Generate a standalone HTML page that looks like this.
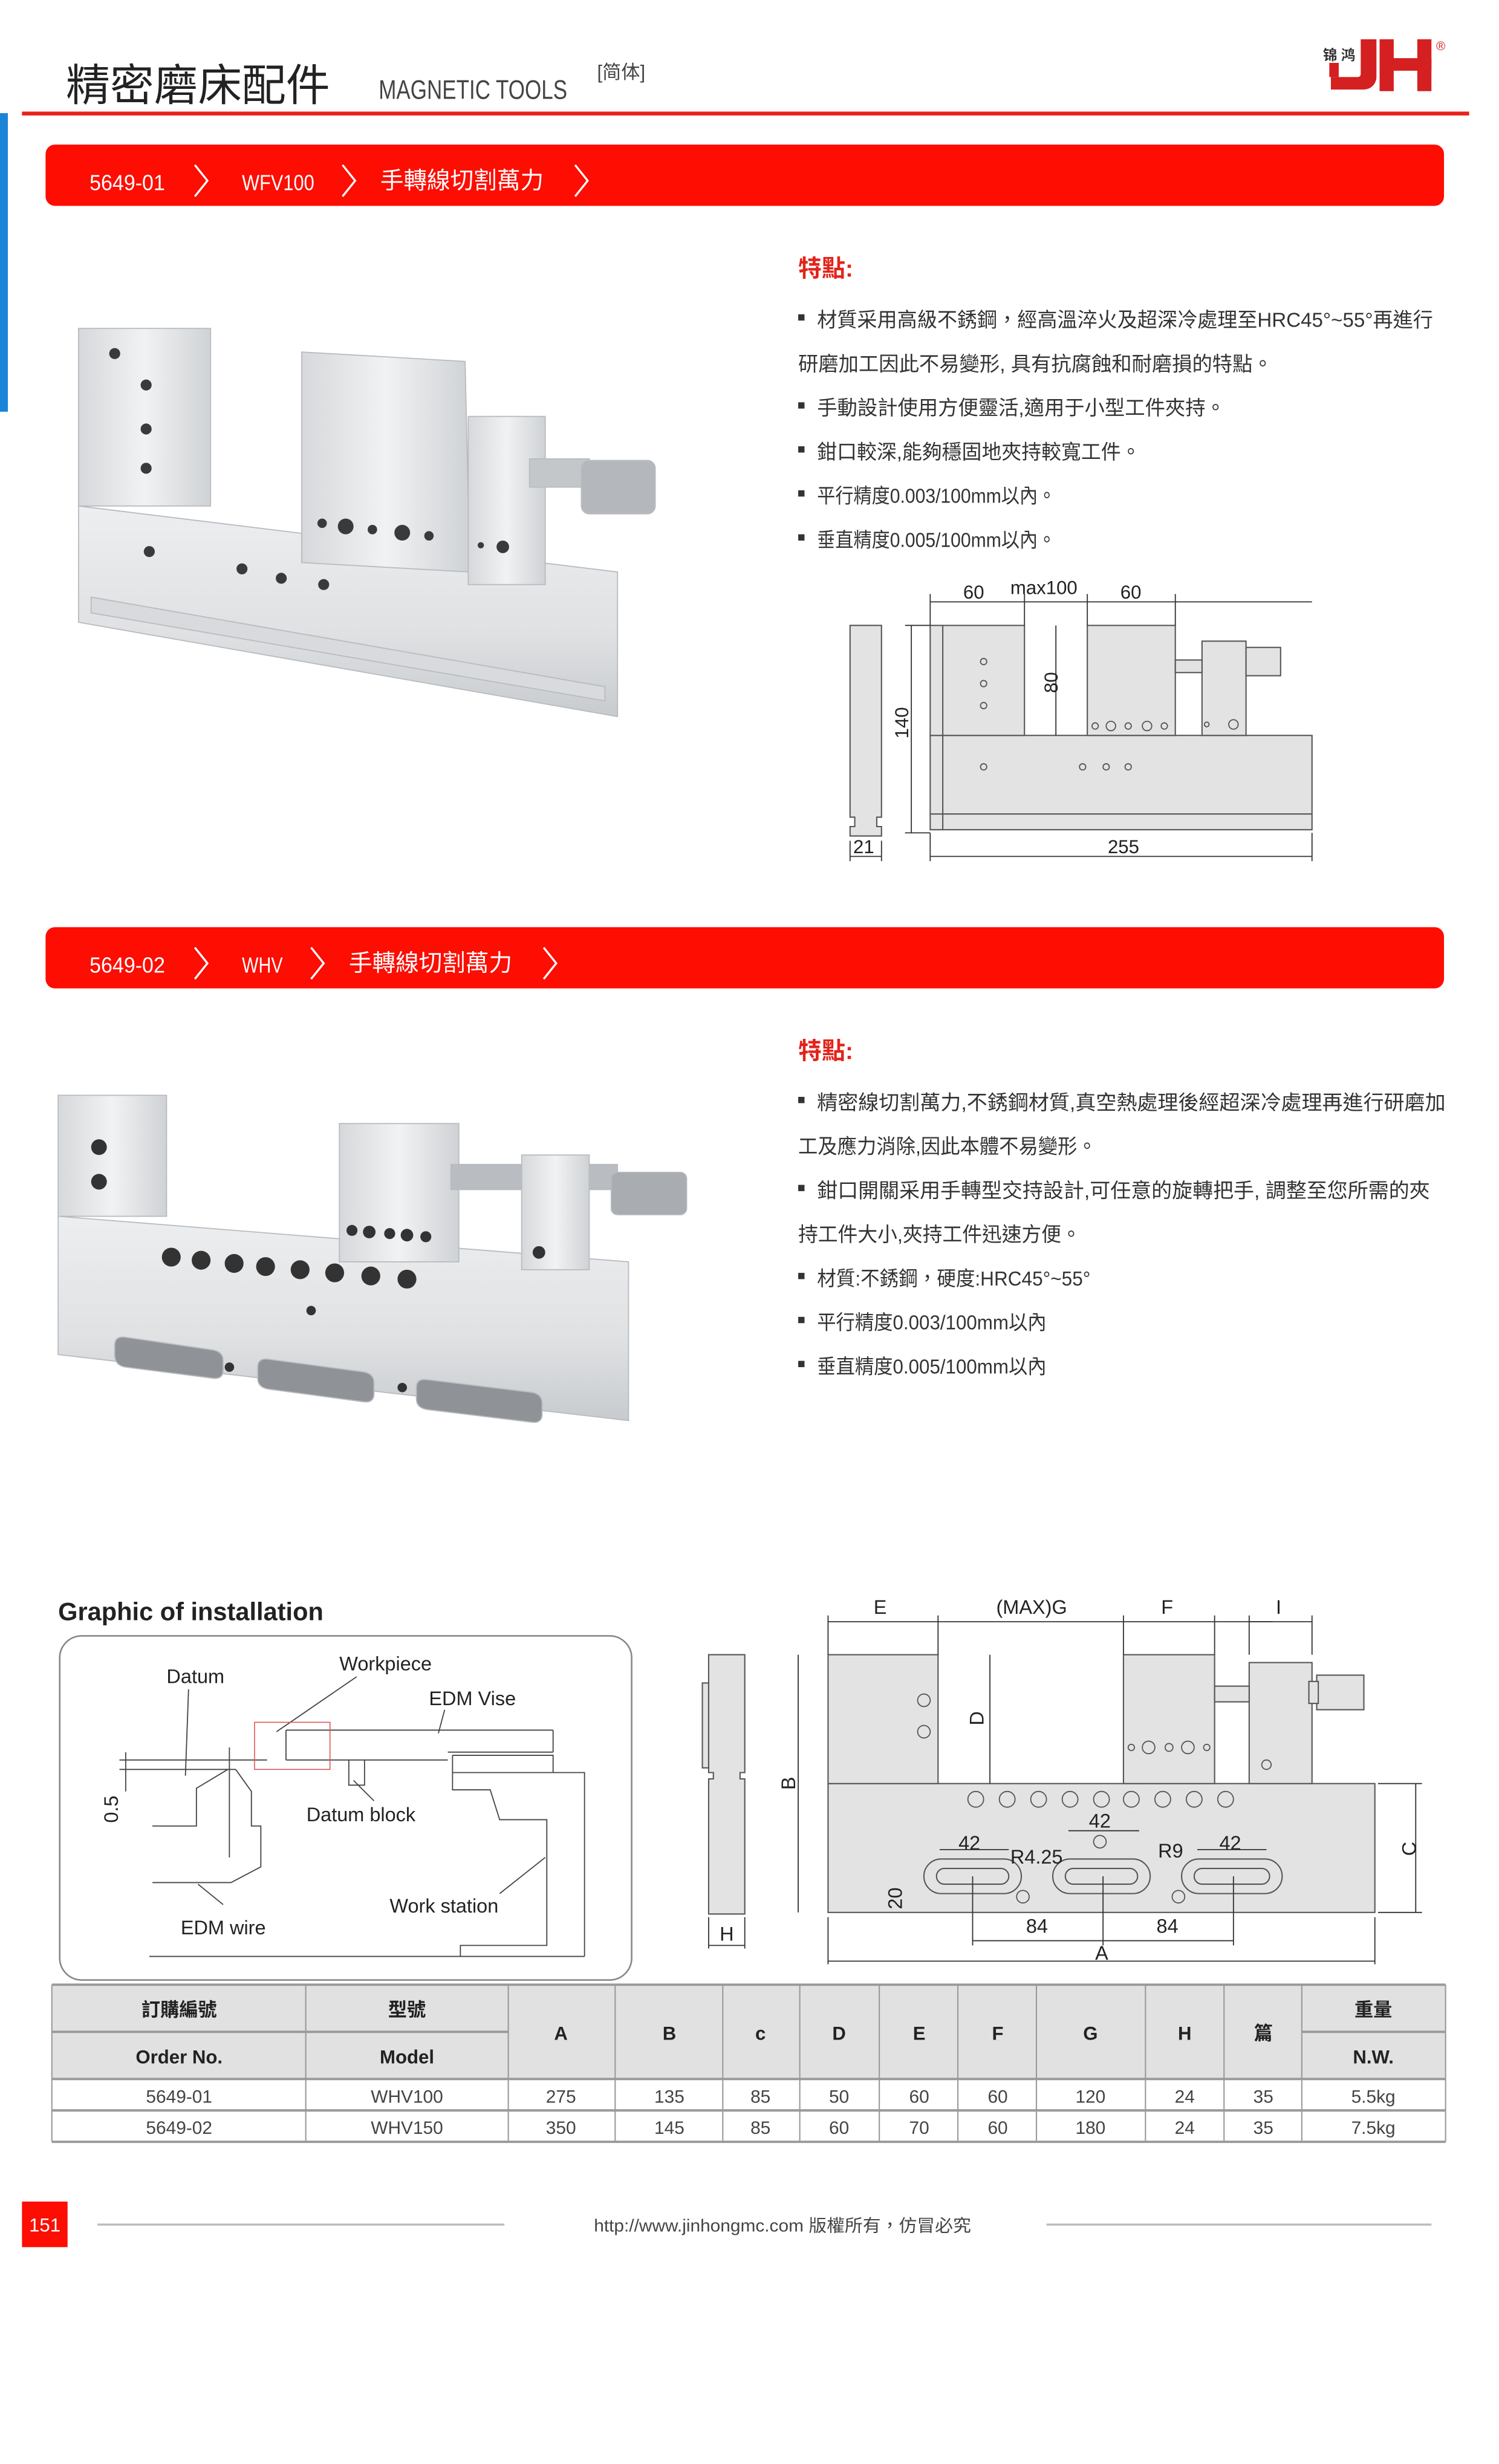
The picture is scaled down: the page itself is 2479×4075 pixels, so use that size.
<!DOCTYPE html>
<html><head><meta charset="utf-8"><style>
html,body{margin:0;padding:0;background:#fff;}
svg{display:block;}
text{font-family:"Liberation Sans","Noto Sans CJK TC","Noto Sans CJK SC",sans-serif;}
</style></head><body>
<svg width="2479" height="4075" viewBox="0 0 954 1568" preserveAspectRatio="none" xmlns="http://www.w3.org/2000/svg">
<defs>
<linearGradient id="met" x1="0" y1="0" x2="0" y2="1"><stop offset="0" stop-color="#eceef0"/><stop offset="0.6" stop-color="#dfe1e3"/><stop offset="1" stop-color="#c8cbce"/></linearGradient>
<linearGradient id="met2" x1="0" y1="0" x2="1" y2="0"><stop offset="0" stop-color="#d6d8db"/><stop offset="0.5" stop-color="#f1f2f3"/><stop offset="1" stop-color="#cfd2d5"/></linearGradient>
</defs>
<rect width="954" height="1568" fill="#fff"/>
<!-- header -->
<text x="42" y="64" font-size="28" fill="#222">精密磨床配件</text>
<text x="241" y="63" font-size="17" fill="#444" textLength="120" lengthAdjust="spacingAndGlyphs">MAGNETIC TOOLS</text>
<text x="380" y="50" font-size="12" fill="#444">[简体]</text>
<text x="842" y="38" font-size="9" font-weight="bold" fill="#333">锦 鸿</text>
<path d="M866 25 h10 v24 a8 8 0 0 1 -8 8 h-21 v-8 h17 q2 0 2 -2 z" fill="#d42020"/>
<path d="M846 40 h6 v9 h-6z" fill="#d42020"/>
<rect x="878" y="25" width="9" height="33" fill="#d42020"/>
<rect x="902" y="25" width="9" height="33" fill="#d42020"/>
<rect x="878" y="37" width="33" height="8" fill="#d42020"/>
<text x="914" y="32" font-size="8" fill="#d42020">®</text>
<rect x="14" y="71" width="921" height="2.5" fill="#e8231a"/>
<rect x="0" y="72" width="5" height="190" fill="#1a84d8"/>

<!-- banner 1 -->
<rect x="29" y="92" width="890" height="39" rx="6" fill="#fd0d02"/>
<g fill="#fff">
<text x="57" y="121" font-size="14" textLength="48" lengthAdjust="spacingAndGlyphs">5649-01</text>
<text x="154" y="121" font-size="14" textLength="46" lengthAdjust="spacingAndGlyphs">WFV100</text>
<text x="242" y="120" font-size="15" textLength="104" lengthAdjust="spacingAndGlyphs">手轉線切割萬力</text>
</g>
<g stroke="#fff" stroke-width="1.3" fill="none">
<polyline points="124,105 132,115 124,125"/><polyline points="218,105 226,115 218,125"/><polyline points="366,105 374,115 366,125"/>
</g>

<!-- photo 1 -->
<g stroke="#b8bcc0" stroke-width="0.7">
<path d="M50 322 L393 364 L393 456 L50 396 Z" fill="url(#met)"/>
<path d="M58 380 L385 437 L385 446 L58 390Z" fill="#d8dadd"/>
<rect x="50" y="209" width="84" height="113" fill="url(#met2)"/>
<path d="M192 224 L296 230 L299 364 L192 358 Z" fill="url(#met2)"/>
<rect x="298" y="265" width="49" height="107" fill="url(#met2)"/>
<rect x="337" y="292" width="38" height="18" fill="#c4c7ca"/>
<rect x="370" y="293" width="47" height="34" rx="5" fill="#b4b8bc"/>
</g>
<g fill="#3a3a3a">
<circle cx="73" cy="225" r="3.5"/><circle cx="93" cy="245" r="3.5"/><circle cx="93" cy="273" r="3.5"/><circle cx="93" cy="298" r="3.5"/>
<circle cx="205" cy="333" r="3"/><circle cx="220" cy="335" r="5"/><circle cx="237" cy="337" r="3"/><circle cx="256" cy="339" r="5"/><circle cx="273" cy="341" r="3"/>
<circle cx="320" cy="348" r="4"/><circle cx="306" cy="347" r="2"/>
<circle cx="95" cy="351" r="3.5"/><circle cx="154" cy="362" r="3.5"/><circle cx="179" cy="368" r="3.5"/><circle cx="206" cy="372" r="3.5"/>
</g>

<!-- features 1 -->
<text x="508" y="176" font-size="15" font-weight="bold" fill="#e3231b">特點:</text>
<g font-size="13" fill="#333">
<rect x="508" y="200" width="4" height="4"/><text x="520" y="208" textLength="392" lengthAdjust="spacingAndGlyphs">材質采用高級不銹鋼，經高溫淬火及超深冷處理至HRC45°~55°再進行</text>
<text x="508" y="236" textLength="302" lengthAdjust="spacingAndGlyphs">研磨加工因此不易變形, 具有抗腐蝕和耐磨損的特點。</text>
<rect x="508" y="256" width="4" height="4"/><text x="520" y="264" textLength="260" lengthAdjust="spacingAndGlyphs">手動設計使用方便靈活,適用于小型工件夾持。</text>
<rect x="508" y="284" width="4" height="4"/><text x="520" y="292" textLength="206" lengthAdjust="spacingAndGlyphs">鉗口較深,能夠穩固地夾持較寬工件。</text>
<rect x="508" y="312" width="4" height="4"/><text x="520" y="320" textLength="152" lengthAdjust="spacingAndGlyphs">平行精度0.003/100mm以內。</text>
<rect x="508" y="340" width="4" height="4"/><text x="520" y="348" textLength="152" lengthAdjust="spacingAndGlyphs">垂直精度0.005/100mm以內。</text>
</g>

<!-- diagram 1 -->
<g stroke="#555" stroke-width="0.8" fill="#e3e3e3">
<path d="M541 398 h20 v122 h-3 v6 h3 v6 h-20 v-6 h3 v-6 h-3z"/>
<rect x="592" y="468" width="243" height="60"/>
<rect x="592" y="398" width="60" height="70"/>
<rect x="692" y="398" width="56" height="70"/>
<rect x="765" y="408" width="28" height="60"/>
<rect x="748" y="420" width="17" height="8"/>
<rect x="793" y="412" width="22" height="18"/>
<line x1="592" y1="518" x2="835" y2="518"/><line x1="600" y1="398" x2="600" y2="528"/>
</g>
<g fill="none" stroke="#555" stroke-width="0.7">
<circle cx="626" cy="421" r="2"/><circle cx="626" cy="435" r="2"/><circle cx="626" cy="449" r="2"/>
<circle cx="697" cy="462" r="2"/><circle cx="707" cy="462" r="3"/><circle cx="718" cy="462" r="2"/><circle cx="730" cy="462" r="3"/><circle cx="741" cy="462" r="2"/>
<circle cx="785" cy="461" r="3"/><circle cx="768" cy="461" r="1.5"/>
<circle cx="626" cy="488" r="2"/><circle cx="689" cy="488" r="2"/><circle cx="704" cy="488" r="2"/><circle cx="718" cy="488" r="2"/>
</g>
<g stroke="#333" stroke-width="0.7" fill="none">
<line x1="592" y1="383" x2="835" y2="383"/>
<line x1="592" y1="378" x2="592" y2="398"/><line x1="652" y1="378" x2="652" y2="398"/><line x1="692" y1="378" x2="692" y2="398"/><line x1="748" y1="378" x2="748" y2="398"/>
<line x1="580" y1="398" x2="580" y2="530"/><line x1="576" y1="398" x2="592" y2="398"/><line x1="576" y1="530" x2="592" y2="530"/>
<line x1="672" y1="398" x2="672" y2="468"/>
<line x1="592" y1="545" x2="835" y2="545"/><line x1="592" y1="530" x2="592" y2="548"/><line x1="835" y1="530" x2="835" y2="548"/>
<line x1="541" y1="545" x2="561" y2="545"/><line x1="541" y1="535" x2="541" y2="548"/><line x1="561" y1="535" x2="561" y2="548"/>
</g>
<g font-size="12" fill="#222">
<text x="613" y="381">60</text><text x="643" y="378">max100</text><text x="713" y="381">60</text>
<text x="705" y="543">255</text><text x="543" y="543">21</text>
<text transform="translate(673,441) rotate(-90)">80</text>
<text transform="translate(578,470) rotate(-90)">140</text>
</g>

<!-- banner 2 -->
<rect x="29" y="590" width="890" height="39" rx="6" fill="#fd0d02"/>
<g fill="#fff">
<text x="57" y="619" font-size="14" textLength="48" lengthAdjust="spacingAndGlyphs">5649-02</text>
<text x="154" y="619" font-size="14" textLength="26" lengthAdjust="spacingAndGlyphs">WHV</text>
<text x="222" y="618" font-size="15" textLength="104" lengthAdjust="spacingAndGlyphs">手轉線切割萬力</text>
</g>
<g stroke="#fff" stroke-width="1.3" fill="none">
<polyline points="124,603 132,613 124,623"/><polyline points="198,603 206,613 198,623"/><polyline points="346,603 354,613 346,623"/>
</g>

<!-- photo 2 -->
<g stroke="#b8bcc0" stroke-width="0.7">
<path d="M37 774 L400 803 L400 904 L37 862 Z" fill="url(#met)"/>
<rect x="37" y="697" width="69" height="77" fill="url(#met2)"/>
<rect x="216" y="715" width="76" height="88" fill="url(#met2)"/>
<rect x="287" y="741" width="106" height="16" fill="#b9bcc0"/>
<rect x="332" y="735" width="43" height="73" fill="url(#met2)"/>
<rect x="389" y="746" width="48" height="27" rx="4" fill="#a9adb1"/>
<path d="M73 856 Q73 850 80 851 L135 859 Q142 860 142 866 L142 872 Q142 878 135 877 L80 870 Q73 869 73 862Z" fill="#8f9397"/>
<path d="M164 870 Q164 864 171 865 L231 873 Q238 874 238 880 L238 887 Q238 893 231 892 L171 884 Q164 883 164 877Z" fill="#8f9397"/>
<path d="M265 883 Q265 877 272 878 L338 886 Q345 887 345 893 L345 900 Q345 906 338 905 L272 897 Q265 896 265 890Z" fill="#8f9397"/>
</g>
<g fill="#333">
<circle cx="63" cy="730" r="5"/><circle cx="63" cy="752" r="5"/>
<circle cx="109" cy="800" r="6"/><circle cx="128" cy="802" r="6"/><circle cx="149" cy="804" r="6"/><circle cx="169" cy="806" r="6"/><circle cx="191" cy="808" r="6"/><circle cx="213" cy="810" r="6"/><circle cx="236" cy="812" r="6"/><circle cx="259" cy="814" r="6"/>
<circle cx="224" cy="783" r="3.5"/><circle cx="235" cy="784" r="4"/><circle cx="248" cy="785" r="3.5"/><circle cx="259" cy="786" r="4"/><circle cx="271" cy="787" r="3.5"/>
<circle cx="343" cy="797" r="4"/><circle cx="198" cy="834" r="3"/><circle cx="146" cy="870" r="3"/><circle cx="256" cy="883" r="3"/>
</g>

<!-- features 2 -->
<text x="508" y="674" font-size="15" font-weight="bold" fill="#e3231b">特點:</text>
<g font-size="13" fill="#333">
<rect x="508" y="698" width="4" height="4"/><text x="520" y="706" textLength="400" lengthAdjust="spacingAndGlyphs">精密線切割萬力,不銹鋼材質,真空熱處理後經超深冷處理再進行研磨加</text>
<text x="508" y="734" textLength="190" lengthAdjust="spacingAndGlyphs">工及應力消除,因此本體不易變形。</text>
<rect x="508" y="754" width="4" height="4"/><text x="520" y="762" textLength="390" lengthAdjust="spacingAndGlyphs">鉗口開關采用手轉型交持設計,可任意的旋轉把手, 調整至您所需的夾</text>
<text x="508" y="790" textLength="180" lengthAdjust="spacingAndGlyphs">持工件大小,夾持工件迅速方便。</text>
<rect x="508" y="810" width="4" height="4"/><text x="520" y="818" textLength="174" lengthAdjust="spacingAndGlyphs">材質:不銹鋼，硬度:HRC45°~55°</text>
<rect x="508" y="838" width="4" height="4"/><text x="520" y="846" textLength="146" lengthAdjust="spacingAndGlyphs">平行精度0.003/100mm以內</text>
<rect x="508" y="866" width="4" height="4"/><text x="520" y="874" textLength="146" lengthAdjust="spacingAndGlyphs">垂直精度0.005/100mm以內</text>
</g>

<!-- installation graphic -->
<text x="37" y="1031" font-size="16" font-weight="bold" fill="#222">Graphic of installation</text>
<rect x="38" y="1041" width="364" height="219" rx="14" fill="#fff" stroke="#888" stroke-width="1"/>
<g stroke="#444" stroke-width="0.7" fill="none">
<line x1="76" y1="1120" x2="170" y2="1120"/><line x1="76" y1="1126" x2="150" y2="1126"/>
<line x1="182" y1="1101" x2="352" y2="1101"/><line x1="182" y1="1101" x2="182" y2="1120"/><line x1="182" y1="1120" x2="285" y2="1120"/>
<line x1="285" y1="1115" x2="352" y2="1115"/><line x1="352" y1="1101" x2="352" y2="1115"/>
<polyline points="288,1117 352,1117 352,1128"/><polyline points="288,1117 288,1139 312,1139 318,1158 348,1158 348,1238 293,1238 293,1245"/>
<polyline points="288,1128 372,1128 372,1245"/>
<line x1="95" y1="1245" x2="372" y2="1245"/>
<polyline points="222,1120 222,1136 232,1136 232,1120"/>
<polyline points="145,1126 125,1138 125,1162 97,1162"/>
<polyline points="150,1126 160,1140 160,1162 166,1162 166,1188 147,1198 97,1198"/>
<line x1="146" y1="1112" x2="146" y2="1182"/>
<line x1="120" y1="1075" x2="118" y2="1130"/>
<line x1="227" y1="1067" x2="176" y2="1102"/>
<line x1="283" y1="1088" x2="279" y2="1103"/>
<line x1="238" y1="1146" x2="225" y2="1133"/>
<line x1="126" y1="1199" x2="142" y2="1212"/>
<line x1="318" y1="1205" x2="347" y2="1182"/>
<line x1="80" y1="1115" x2="80" y2="1140"/>
</g>
<rect x="162" y="1096" width="48" height="30" fill="none" stroke="#e05050" stroke-width="0.6"/>
<g font-size="12.5" fill="#222">
<text x="106" y="1071">Datum</text><text x="216" y="1063">Workpiece</text><text x="273" y="1085">EDM Vise</text>
<text x="195" y="1159">Datum block</text><text x="248" y="1217">Work station</text><text x="115" y="1231">EDM wire</text>
<text transform="translate(75,1160) rotate(-90)">0.5</text>
</g>

<!-- right drawing 2 -->
<g stroke="#555" stroke-width="0.8" fill="#e3e3e3">
<path d="M451 1053 h23 v75 h-3 v4 h3 v86 h-23 v-86 h3 v-4 h-3z"/>
<rect x="447" y="1071" width="4" height="54"/>
<rect x="527" y="1135" width="348" height="82"/>
<rect x="527" y="1053" width="70" height="82"/>
<rect x="715" y="1053" width="58" height="82"/>
<rect x="795" y="1058" width="40" height="77"/>
<rect x="773" y="1073" width="22" height="10"/>
<rect x="838" y="1066" width="30" height="22"/>
<rect x="833" y="1070" width="6" height="14"/>
<rect x="588" y="1183" width="62" height="22" rx="11"/>
<rect x="670" y="1183" width="62" height="22" rx="11"/>
<rect x="752" y="1183" width="64" height="22" rx="11"/>
<rect x="596" y="1189" width="46" height="10" rx="5"/>
<rect x="678" y="1189" width="46" height="10" rx="5"/>
<rect x="760" y="1189" width="48" height="10" rx="5"/>
</g>
<g fill="none" stroke="#555" stroke-width="0.7">
<circle cx="588" cy="1082" r="4"/><circle cx="588" cy="1102" r="4"/>
<circle cx="720" cy="1112" r="2"/><circle cx="731" cy="1112" r="4"/><circle cx="744" cy="1112" r="2.5"/><circle cx="756" cy="1112" r="4"/><circle cx="768" cy="1112" r="2"/>
<circle cx="806" cy="1123" r="3"/>
<circle cx="621" cy="1145" r="5"/><circle cx="641" cy="1145" r="5"/><circle cx="661" cy="1145" r="5"/><circle cx="681" cy="1145" r="5"/><circle cx="701" cy="1145" r="5"/><circle cx="720" cy="1145" r="5"/><circle cx="740" cy="1145" r="5"/><circle cx="760" cy="1145" r="5"/><circle cx="780" cy="1145" r="5"/>
<circle cx="700" cy="1172" r="4"/><circle cx="651" cy="1207" r="4"/><circle cx="750" cy="1207" r="4"/>
</g>
<g stroke="#333" stroke-width="0.7" fill="none">
<line x1="527" y1="1032" x2="810" y2="1032"/><line x1="795" y1="1032" x2="835" y2="1032"/>
<line x1="527" y1="1028" x2="527" y2="1053"/><line x1="597" y1="1028" x2="597" y2="1053"/><line x1="715" y1="1028" x2="715" y2="1053"/><line x1="773" y1="1028" x2="773" y2="1053"/><line x1="795" y1="1028" x2="795" y2="1053"/><line x1="835" y1="1028" x2="835" y2="1053"/>
<line x1="630" y1="1053" x2="630" y2="1135"/>
<line x1="508" y1="1053" x2="508" y2="1217"/>
<line x1="901" y1="1135" x2="901" y2="1217"/><line x1="877" y1="1135" x2="905" y2="1135"/><line x1="877" y1="1217" x2="905" y2="1217"/>
<line x1="527" y1="1248" x2="875" y2="1248"/><line x1="527" y1="1220" x2="527" y2="1250"/><line x1="875" y1="1220" x2="875" y2="1250"/>
<line x1="619" y1="1235" x2="785" y2="1235"/><line x1="619" y1="1194" x2="619" y2="1238"/><line x1="702" y1="1194" x2="702" y2="1238"/><line x1="785" y1="1194" x2="785" y2="1238"/>
<line x1="451" y1="1238" x2="474" y2="1238"/><line x1="451" y1="1220" x2="451" y2="1240"/><line x1="474" y1="1220" x2="474" y2="1240"/>
<line x1="598" y1="1177" x2="642" y2="1177"/><line x1="680" y1="1165" x2="725" y2="1165"/><line x1="762" y1="1177" x2="806" y2="1177"/>
</g>
<g font-size="12.5" fill="#222">
<text x="556" y="1027">E</text><text x="634" y="1027">(MAX)G</text><text x="739" y="1027">F</text><text x="812" y="1027">I</text>
<text x="610" y="1177">42</text><text x="693" y="1163">42</text><text x="776" y="1177">42</text>
<text x="643" y="1186">R4.25</text><text x="737" y="1182">R9</text>
<text x="653" y="1230">84</text><text x="736" y="1230">84</text><text x="697" y="1247">A</text><text x="458" y="1235">H</text>
<text transform="translate(626,1098) rotate(-90)">D</text>
<text transform="translate(506,1139) rotate(-90)">B</text>
<text transform="translate(901,1181) rotate(-90)">C</text>
<text transform="translate(574,1215) rotate(-90)">20</text>
</g>

<!-- table -->
<rect x="33" y="1263" width="887" height="60" fill="#e1e1e1"/>
<g stroke="#999" stroke-width="0.8">
<line x1="33" y1="1263" x2="920" y2="1263" stroke-width="1.5"/>
<line x1="33" y1="1293" x2="323.5" y2="1293" stroke-width="1.5"/><line x1="828.5" y1="1293" x2="920" y2="1293" stroke-width="1.5"/>
<line x1="33" y1="1323" x2="920" y2="1323" stroke-width="1.5"/>
<line x1="33" y1="1343" x2="920" y2="1343" stroke-width="1.5"/>
<line x1="33" y1="1363" x2="920" y2="1363" stroke-width="1.5"/>
<line x1="33" y1="1263" x2="33" y2="1363"/><line x1="194.6" y1="1263" x2="194.6" y2="1363"/><line x1="323.5" y1="1263" x2="323.5" y2="1363"/><line x1="391.5" y1="1263" x2="391.5" y2="1363"/><line x1="460" y1="1263" x2="460" y2="1363"/><line x1="509" y1="1263" x2="509" y2="1363"/><line x1="559.6" y1="1263" x2="559.6" y2="1363"/><line x1="609.6" y1="1263" x2="609.6" y2="1363"/><line x1="659.6" y1="1263" x2="659.6" y2="1363"/><line x1="729" y1="1263" x2="729" y2="1363"/><line x1="779" y1="1263" x2="779" y2="1363"/><line x1="828.5" y1="1263" x2="828.5" y2="1363"/><line x1="920" y1="1263" x2="920" y2="1363"/>
</g>
<g font-size="12" font-weight="bold" fill="#222" text-anchor="middle">
<text x="114" y="1283">訂購編號</text><text x="259" y="1283">型號</text><text x="874" y="1283">重量</text>
<text x="114" y="1313">Order No.</text><text x="259" y="1313">Model</text><text x="874" y="1313">N.W.</text>
<text x="357" y="1298">A</text><text x="426" y="1298">B</text><text x="484" y="1298">c</text><text x="534" y="1298">D</text><text x="585" y="1298">E</text><text x="635" y="1298">F</text><text x="694" y="1298">G</text><text x="754" y="1298">H</text><text x="804" y="1298">篇</text>
</g>
<g font-size="11.5" fill="#444" text-anchor="middle">
<text x="114" y="1338">5649-01</text><text x="259" y="1338">WHV100</text><text x="357" y="1338">275</text><text x="426" y="1338">135</text><text x="484" y="1338">85</text><text x="534" y="1338">50</text><text x="585" y="1338">60</text><text x="635" y="1338">60</text><text x="694" y="1338">120</text><text x="754" y="1338">24</text><text x="804" y="1338">35</text><text x="874" y="1338">5.5kg</text>
<text x="114" y="1358">5649-02</text><text x="259" y="1358">WHV150</text><text x="357" y="1358">350</text><text x="426" y="1358">145</text><text x="484" y="1358">85</text><text x="534" y="1358">60</text><text x="585" y="1358">70</text><text x="635" y="1358">60</text><text x="694" y="1358">180</text><text x="754" y="1358">24</text><text x="804" y="1358">35</text><text x="874" y="1358">7.5kg</text>
</g>

<!-- footer -->
<rect x="14" y="1401" width="29" height="29" fill="#fd0d02"/>
<text x="28.5" y="1420" font-size="12" fill="#fff" text-anchor="middle">151</text>
<rect x="62" y="1415" width="259" height="1.3" fill="#bbb"/>
<rect x="666" y="1415" width="245" height="1.3" fill="#bbb"/>
<text x="378" y="1420" font-size="11" fill="#444" textLength="240" lengthAdjust="spacingAndGlyphs">http://www.jinhongmc.com 版權所有，仿冒必究</text>
</svg>
</body></html>
